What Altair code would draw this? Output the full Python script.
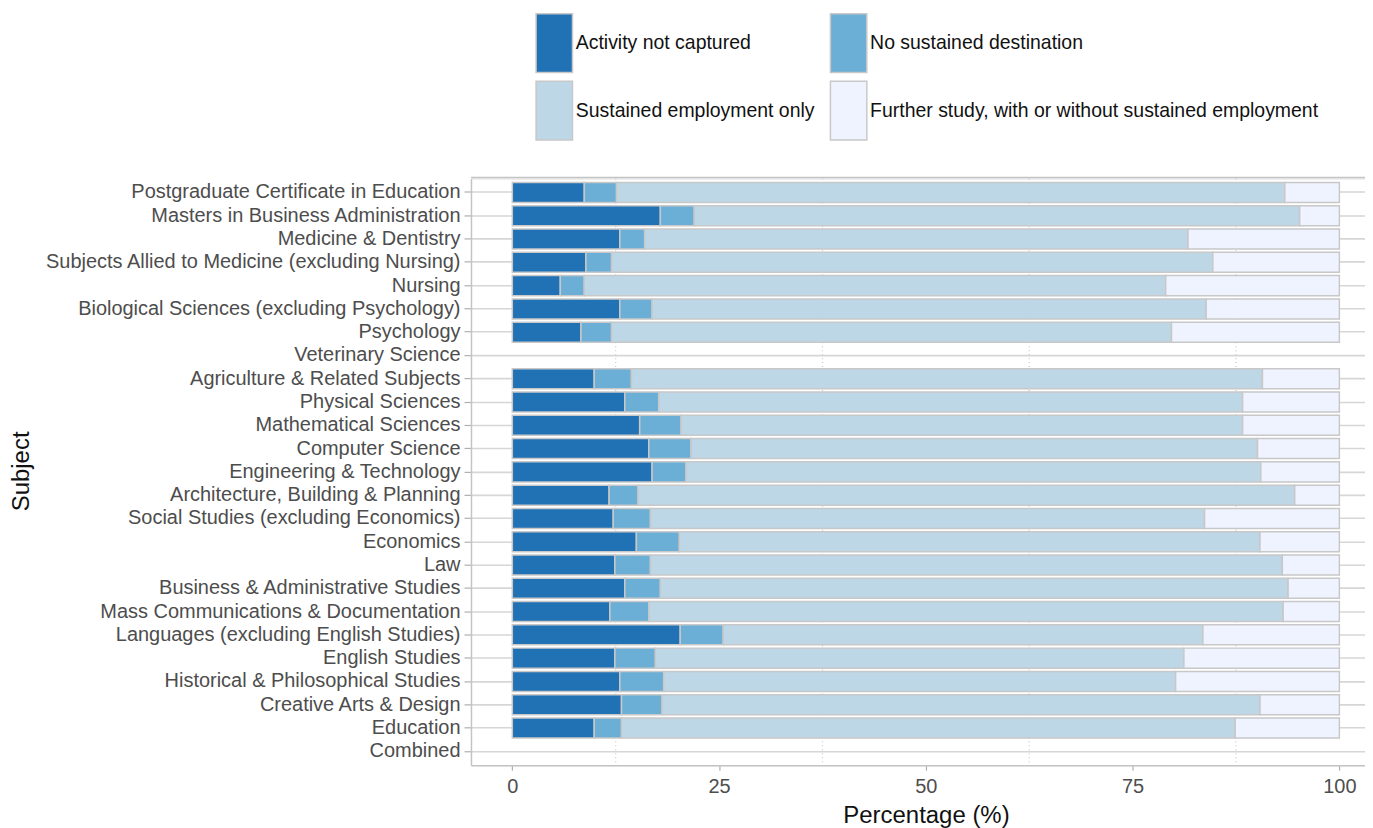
import altair as alt
import pandas as pd

subjects = [
    "Postgraduate Certificate in Education",
    "Masters in Business Administration",
    "Medicine & Dentistry",
    "Subjects Allied to Medicine (excluding Nursing)",
    "Nursing",
    "Biological Sciences (excluding Psychology)",
    "Psychology",
    "Veterinary Science",
    "Agriculture & Related Subjects",
    "Physical Sciences",
    "Mathematical Sciences",
    "Computer Science",
    "Engineering & Technology",
    "Architecture, Building & Planning",
    "Social Studies (excluding Economics)",
    "Economics",
    "Law",
    "Business & Administrative Studies",
    "Mass Communications & Documentation",
    "Languages (excluding English Studies)",
    "English Studies",
    "Historical & Philosophical Studies",
    "Creative Arts & Design",
    "Education",
    "Combined",
]

categories = [
    "Activity not captured",
    "No sustained destination",
    "Sustained employment only",
    "Further study, with or without sustained employment",
]
colors = ["#2171b5", "#6baed6", "#bdd7e7", "#eff3ff"]

activity_not_captured = [8.7, 17.9, 13.0, 8.9, 5.8, 13.0, 8.3, None, 9.9, 13.6, 15.4, 16.5, 16.9,
                         11.7, 12.2, 15.0, 12.4, 13.6, 11.8, 20.3, 12.4, 13.0, 13.2, 9.9, None]
no_sustained = [3.9, 4.1, 3.0, 3.1, 2.9, 3.9, 3.7, None, 4.5, 4.1, 5.0, 5.1, 4.1,
                3.5, 4.5, 5.2, 4.3, 4.3, 4.7, 5.2, 4.9, 5.3, 4.9, 3.3, None]
sustained_only = [80.8, 73.2, 65.7, 72.7, 70.3, 67.0, 67.7, None, 76.3, 70.6, 67.9, 68.5, 69.5,
                  79.4, 67.0, 70.2, 76.4, 75.9, 76.7, 58.0, 63.9, 61.9, 72.3, 74.2, None]
further_study = [6.6, 4.8, 18.3, 15.3, 21.0, 16.1, 20.3, None, 9.3, 11.7, 11.7, 9.9, 9.5,
                 5.4, 16.3, 9.6, 6.9, 6.2, 6.8, 16.5, 18.8, 19.8, 9.6, 12.6, None]

minor_ticks = [12.5, 37.5, 62.5, 87.5]
major_ticks = [0, 25, 50, 75, 100]

series = [activity_not_captured, no_sustained, sustained_only, further_study]
rows = []
for ci, (cat, vals) in enumerate(zip(categories, series)):
    for s, v in zip(subjects, vals):
        if v is not None:
            rows.append({"Subject": s, "Outcome": cat, "Percentage": v, "ord": ci})
df = pd.DataFrame(rows)

W, H = 896, 588
FONT = "Liberation Sans"
GRID = "#d6d6d6"
BORDER = "#c4c4c4"

xscale = alt.Scale(domain=[-5, 103.1], nice=False, zero=False)
yscale = alt.Scale(domain=subjects, paddingInner=0.14, paddingOuter=0.17)

minor = alt.Chart(pd.DataFrame({"x": minor_ticks})).mark_rule(
    color="#c8c8c8", strokeDash=[1, 3], strokeWidth=1.2
).encode(x=alt.X("x:Q", scale=xscale))

top_border = alt.Chart(pd.DataFrame({"a": [0]})).mark_rule(
    color=BORDER, strokeWidth=1.5
).encode(y=alt.value(-1), x=alt.value(0), x2=alt.value(W))

legend = alt.Legend(
    title=None,
    orient="none",
    direction="horizontal",
    legendX=65,
    legendY=-156,
    columns=2,
    symbolType="M-1.04,-1.553H0.88V1.553H-1.04Z",
    symbolSize=1444,
    symbolStrokeColor="#c8c8c8",
    symbolStrokeWidth=1.5,
    symbolOpacity=1,
    labelFont=FONT,
    labelFontSize=19.5,
    labelColor="#111111",
    labelOffset=0,
    labelLimit=600,
    rowPadding=2,
    columnPadding=12,
    padding=0,
)

bars = alt.Chart(df).mark_bar(stroke="#c8c8c8", strokeWidth=1.5, opacity=1).encode(
    y=alt.Y(
        "Subject:N",
        scale=yscale,
        sort=subjects,
        title="Subject",
        axis=alt.Axis(
            bandPosition=0.5,
            grid=True,
            gridColor=GRID,
            gridWidth=1.6,
            domainColor=BORDER,
            domainWidth=1.5,
            tickColor="#b0b0b0",
            tickSize=7,
            tickWidth=1.2,
            labelFont=FONT,
            labelFontSize=20,
            labelColor="#4d4d4d",
            labelPadding=4,
            labelLimit=500,
            titleFont=FONT,
            titleFontSize=24,
            titleFontWeight="normal",
            titleColor="#111111",
            titleX=-443,
            titleY=293,
            titleAngle=270,
            titleAlign="center",
            titleBaseline="alphabetic",
        ),
    ),
    x=alt.X(
        "sum(Percentage):Q",
        scale=xscale,
        stack="zero",
        title="Percentage (%)",
        axis=alt.Axis(
            values=major_ticks,
            grid=False,
            domainColor=BORDER,
            domainWidth=1.5,
            tickColor="#b0b0b0",
            tickSize=5,
            tickWidth=1.2,
            labelFont=FONT,
            labelFontSize=20,
            labelColor="#4d4d4d",
            labelPadding=6,
            titleFont=FONT,
            titleFontSize=24,
            titleFontWeight="normal",
            titleColor="#111111",
            titlePadding=7,
            titleX=456,
        ),
    ),
    color=alt.Color(
        "Outcome:N",
        scale=alt.Scale(domain=categories, range=colors),
        legend=legend,
    ),
    order=alt.Order("ord:Q"),
)

chart = (
    alt.layer(minor, top_border, bars)
    .properties(
        width=W,
        height=H,
        autosize=alt.AutoSizeParams(type="none"),
        padding={"left": 464, "top": 170, "right": 0, "bottom": 62},
    )
    .configure_view(stroke="transparent")
    .configure(background="white")
)

chart.save("out.html", embed_options={"renderer": "svg", "actions": False})
